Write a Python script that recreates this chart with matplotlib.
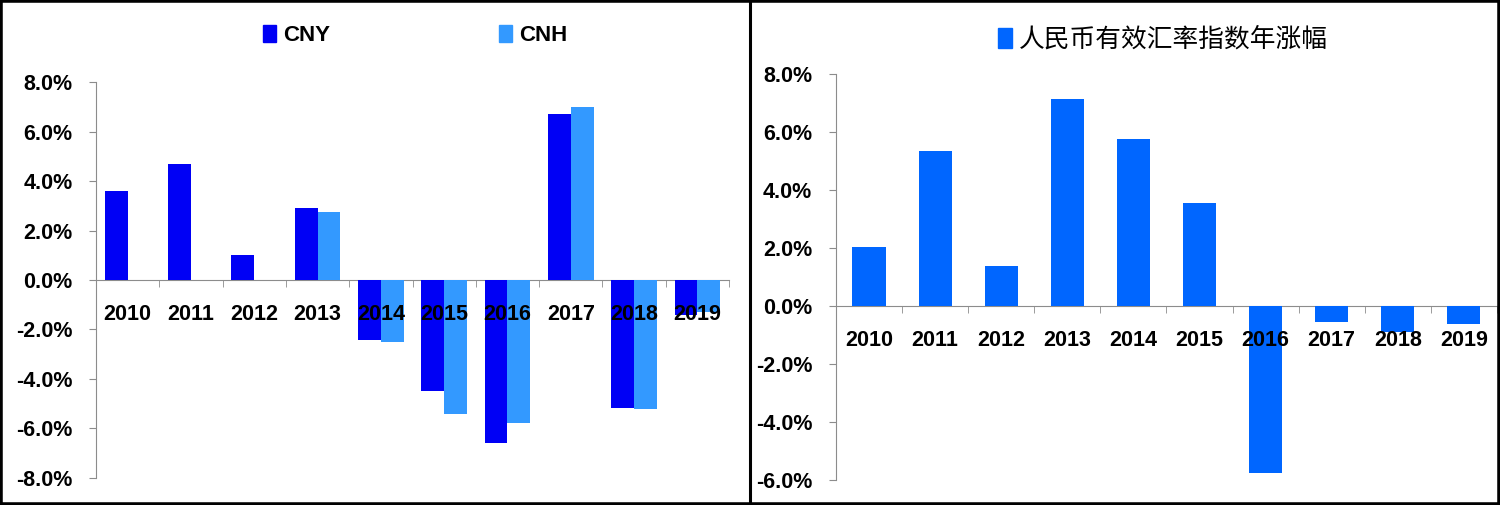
import numpy as np
import matplotlib.pyplot as plt
from matplotlib.patches import Rectangle, Patch
from matplotlib.ticker import FuncFormatter

years = ['2010', '2011', '2012', '2013', '2014', '2015', '2016', '2017', '2018', '2019']
cny = [3.6, 4.7, 1.0, 2.92, -2.42, -4.47, -6.57, 6.7, -5.17, -1.4]
cnh = [np.nan, np.nan, np.nan, 2.75, -2.5, -5.4, -5.77, 7.0, -5.2, -1.3]
reer = [2.03, 5.34, 1.38, 7.14, 5.76, 3.55, -5.75, -0.54, -0.9, -0.61]

C_CNY = '#0000f5'
C_CNH = '#3399ff'
C_REER = '#0066ff'
AXC = '#8c8c8c'

plt.rcParams['font.family'] = ['Liberation Sans', 'Noto Sans CJK SC', 'DejaVu Sans']
plt.rcParams['font.weight'] = 'bold'

fig = plt.figure(figsize=(15, 5.05), dpi=100)
ax1 = fig.add_axes([0.064, 0.0535, 0.422, 0.7841])
ax2 = fig.add_axes([0.5573, 0.0495, 0.4407, 0.804])

pct = FuncFormatter(lambda v, p: f'{v:.1f}%')


def style(ax, lo, hi):
    x = np.arange(len(years))
    ax.set_xlim(-0.5, len(years) - 0.5)
    ax.set_ylim(lo, hi)
    ax.set_yticks(np.arange(lo, hi + 0.1, 2))
    ax.yaxis.set_major_formatter(pct)
    ax.set_xticks(x)
    ax.set_xticklabels(years, fontweight='bold')
    ax.set_xticks(np.arange(0.5, len(years), 1), minor=True)
    ax.tick_params(axis='x', which='major', length=0, pad=17, labelsize=15.5)
    ax.tick_params(axis='x', which='minor', length=5, color=AXC, direction='out')
    ax.tick_params(axis='y', length=5, color=AXC, pad=12, labelsize=15.5)
    ax.spines['top'].set_visible(False)
    ax.spines['right'].set_visible(False)
    ax.spines['left'].set_color(AXC)
    ax.spines['bottom'].set_color(AXC)
    ax.spines['bottom'].set_position(('data', 0))
    ax.spines['bottom'].set_zorder(0.5)


x = np.arange(len(years))
w = 0.36
ax1.bar(x - w / 2, cny, w, color=C_CNY, zorder=1)
ax1.bar(x + w / 2, cnh, w, color=C_CNH, zorder=1)
style(ax1, -8, 8)
ax1.legend(handles=[Patch(color=C_CNY, label='CNY'), Patch(color=C_CNH, label='CNH')],
           loc='center', bbox_to_anchor=(0.277, 0.93), bbox_transform=fig.transFigure,
           ncol=2, frameon=False, handlelength=0.55, handleheight=0.85, handletextpad=0.35,
           columnspacing=7.6, prop={'size': 16, 'weight': 'bold'})

ax2.bar(x, reer, 0.5, color=C_REER, zorder=1)
style(ax2, -6, 8)
ax2.legend(handles=[Patch(color=C_REER, label='人民币有效汇率指数年涨幅')],
           loc='center', bbox_to_anchor=(0.7753, 0.921), bbox_transform=fig.transFigure,
           frameon=False, handlelength=0.55, handleheight=0.85, handletextpad=0.3,
           prop={'size': 18.5, 'family': ['Noto Sans CJK SC'], 'weight': 'normal'})

# panel frames
fig.patches.append(Rectangle((0.0, 0.0), 1.0, 1.0, transform=fig.transFigure,
                             fill=False, edgecolor='black', linewidth=4))
fig.add_artist(plt.Line2D([0.5, 0.5], [0, 1], transform=fig.transFigure,
                          color='black', linewidth=2.2))

fig.savefig('out.png', dpi=100)
